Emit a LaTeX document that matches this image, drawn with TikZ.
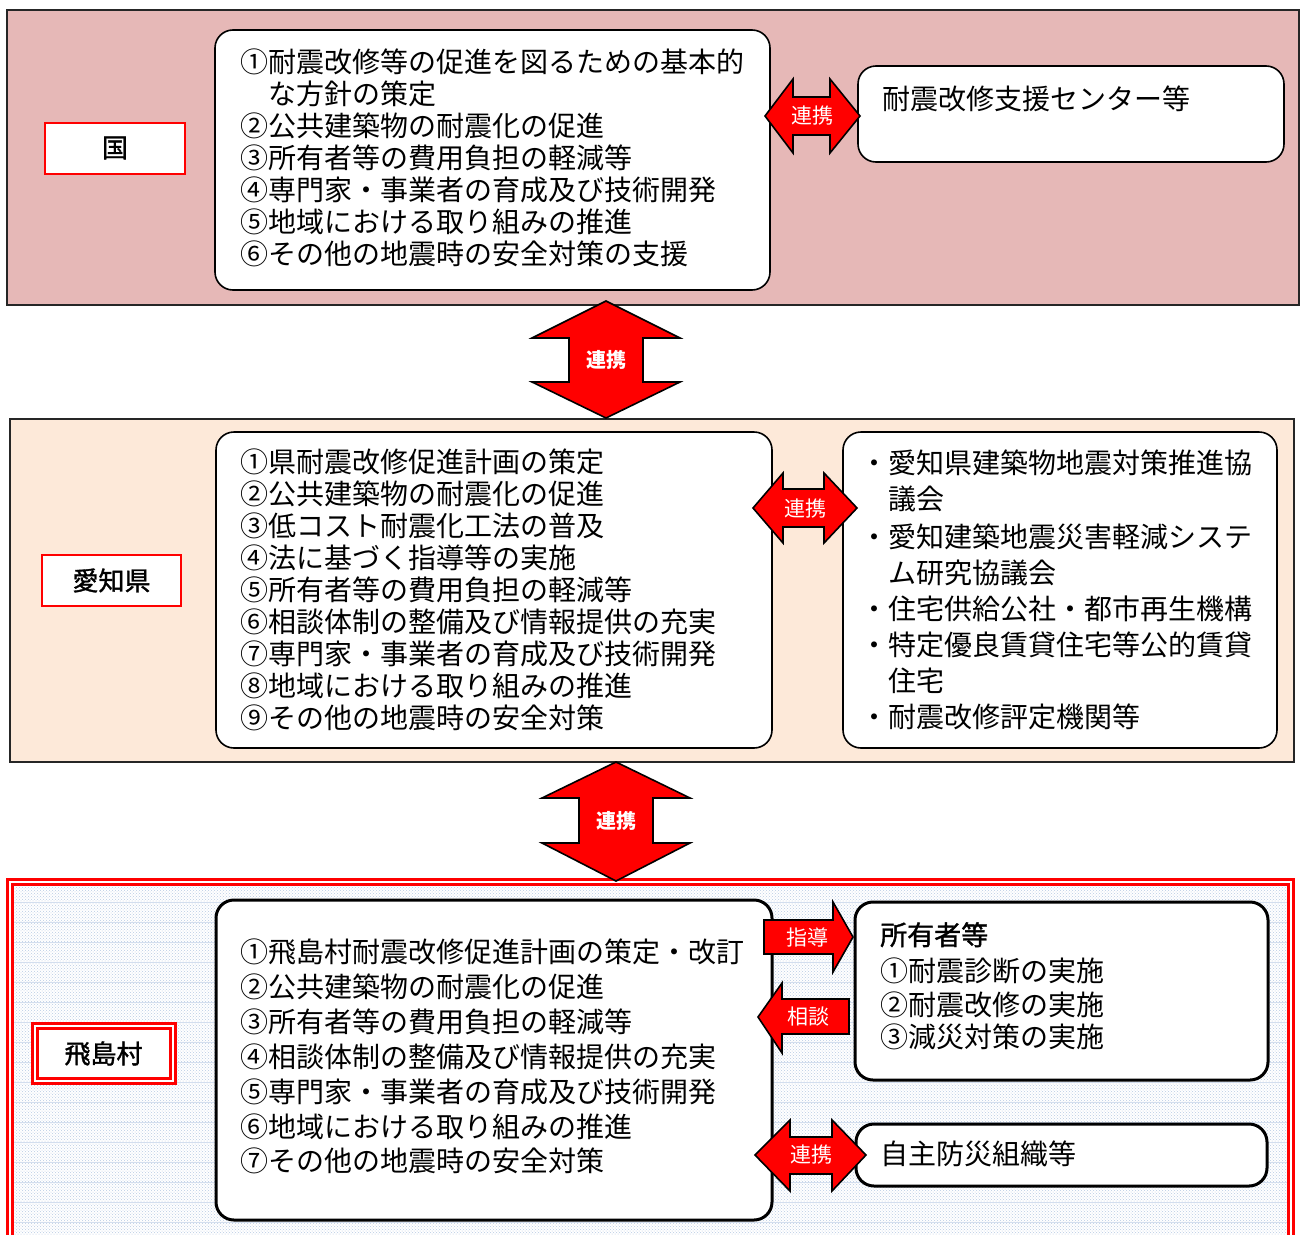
\documentclass[tikz,border=0pt]{standalone}
\usepackage{fontspec}
\setmainfont{Noto Sans CJK JP}
\newfontfamily\semib[FakeBold=1.3]{Noto Sans CJK JP}
\usetikzlibrary{patterns}
\definecolor{kunibg}{HTML}{E6B8B7}
\definecolor{kenbg}{HTML}{FDE9D9}
\definecolor{hatch}{HTML}{B9CBE4}
\definecolor{hline}{HTML}{D3DEEE}
\tikzset{
  sect/.style={draw=black!85, line width=1.3pt},
  lbl/.style={draw=red, line width=2pt, fill=white, inner sep=0pt, font=\semib\fontsize{26}{30}\selectfont},
  listbox/.style={draw=black, line width=1.6pt, fill=white, rounded corners=18pt, inner sep=0pt},
  thickbox/.style={draw=black, line width=3pt, fill=white, rounded corners=18pt, inner sep=0pt},
  txt/.style={anchor=base west, inner sep=0pt, font=\fontsize{28}{32}\selectfont, text=black},
  barrow/.style={fill=red, draw=black, line width=1.6pt, line join=miter},
  atext/.style={text=white, inner sep=0pt, font=\fontsize{21}{24}\selectfont},
  btext/.style={text=white, inner sep=0pt, font=\bfseries\fontsize{20}{24}\selectfont},
}
\begin{document}
\begin{tikzpicture}[x=1pt,y=-1pt]
\useasboundingbox (0,0) rectangle (1300,1234);
\clip (0,0) rectangle (1300,1234);
\fill[white] (0,0) rectangle (1300,1234);

% ---------- sections ----------
\node[sect, fill=kunibg, minimum width=1292pt, minimum height=295pt, inner sep=0pt] (kuni) at (653,157.5) {};
\node[sect, fill=kenbg, minimum width=1284pt, minimum height=343pt, inner sep=0pt] (ken) at (652,590.5) {};
% bottom section
\fill[white] (7,879) rectangle (1293,1245);
\fill[pattern=crosshatch dots, pattern color=hatch] (12,884) rectangle (1289,1245);
\foreach \yy in {902,922,...,1240} {\draw[hline, line width=0.8pt] (12,\yy) -- (1289,\yy);}
\draw[red, line width=3pt] (7,879) rectangle (1293,1250);
\draw[red, line width=3pt] (12.5,884.5) rectangle (1288,1250);
\coordinate (mura) at (650,1055);

% ---------- labels ----------
\node[lbl, minimum width=140pt, minimum height=51pt] (kunilbl) at (115,148) {国};
\node[lbl, minimum width=139pt, minimum height=51pt] (kenlbl) at (111.5,580.5) {愛知県};
\node[draw=red, line width=3pt, fill=white, minimum width=143pt, minimum height=60pt, inner sep=0pt] (muralblo) at (103.5,1053.5) {};
\node[lbl, line width=3pt, minimum width=133pt, minimum height=50pt] (muralbl) at (103.5,1053.5) {飛島村};

% ---------- boxes ----------
\node[listbox, minimum width=555pt, minimum height=260pt] (kunilist) at (492.5,160) {};
\node[listbox, minimum width=426pt, minimum height=96pt] (center) at (1071,114) {};
\node[listbox, minimum width=556pt, minimum height=316pt] (kenlist) at (494,590) {};
\node[listbox, minimum width=434pt, minimum height=316pt] (kenorg) at (1060,590) {};
\node[thickbox, minimum width=556pt, minimum height=320pt] (muralist) at (494,1060) {};
\node[thickbox, minimum width=413pt, minimum height=178pt] (owner) at (1061.5,991) {};
\node[thickbox, minimum width=411pt, minimum height=62pt] (jishu) at (1061.5,1155) {};

% ---------- texts: 国 ----------
\node[txt] (k1) at (240,72) {①耐震改修等の促進を図るための基本的};
\node[txt] (k1b) at (268,104) {な方針の策定};
\node[txt] (k2) at (240,136) {②公共建築物の耐震化の促進};
\node[txt] (k3) at (240,168) {③所有者等の費用負担の軽減等};
\node[txt] (k4) at (240,200) {④専門家・事業者の育成及び技術開発};
\node[txt] (k5) at (240,232) {⑤地域における取り組みの推進};
\node[txt] (k6) at (240,264) {⑥その他の地震時の安全対策の支援};
\node[txt] (ct) at (882,109) {耐震改修支援センター等};

% ---------- texts: 愛知県 ----------
\node[txt] (a1) at (240,472) {①県耐震改修促進計画の策定};
\node[txt] (a2) at (240,504) {②公共建築物の耐震化の促進};
\node[txt] (a3) at (240,536) {③低コスト耐震化工法の普及};
\node[txt] (a4) at (240,568) {④法に基づく指導等の実施};
\node[txt] (a5) at (240,600) {⑤所有者等の費用負担の軽減等};
\node[txt] (a6) at (240,632) {⑥相談体制の整備及び情報提供の充実};
\node[txt] (a7) at (240,664) {⑦専門家・事業者の育成及び技術開発};
\node[txt] (a8) at (240,696) {⑧地域における取り組みの推進};
\node[txt] (a9) at (240,728) {⑨その他の地震時の安全対策};

\node[txt] (o1) at (860,473) {・愛知県建築物地震対策推進協};
\node[txt] (o1b) at (888,509) {議会};
\node[txt] (o2) at (860,547) {・愛知建築地震災害軽減システ};
\node[txt] (o2b) at (888,583) {ム研究協議会};
\node[txt] (o3) at (860,619) {・住宅供給公社・都市再生機構};
\node[txt] (o4) at (860,655) {・特定優良賃貸住宅等公的賃貸};
\node[txt] (o4b) at (888,691) {住宅};
\node[txt] (o5) at (860,727) {・耐震改修評定機関等};

% ---------- texts: 飛島村 ----------
\node[txt] (m1) at (240,962) {①飛島村耐震改修促進計画の策定・改訂};
\node[txt] (m2) at (240,997) {②公共建築物の耐震化の促進};
\node[txt] (m3) at (240,1032) {③所有者等の費用負担の軽減等};
\node[txt] (m4) at (240,1067) {④相談体制の整備及び情報提供の充実};
\node[txt] (m5) at (240,1102) {⑤専門家・事業者の育成及び技術開発};
\node[txt] (m6) at (240,1137) {⑥地域における取り組みの推進};
\node[txt] (m7) at (240,1171) {⑦その他の地震時の安全対策};

\node[txt, font=\semib\fontsize{27}{32}\selectfont] (w0) at (880,945) {所有者等};
\node[txt] (w1) at (880,981) {①耐震診断の実施};
\node[txt] (w2) at (880,1015) {②耐震改修の実施};
\node[txt] (w3) at (880,1047) {③減災対策の実施};
\node[txt] (js) at (880,1164) {自主防災組織等};

% ---------- block arrows ----------
% 国 <-> センター
\draw[barrow] (765,116) -- (793,79) -- (793,97) -- (830,97) -- (830,79) -- (860,116)
  -- (830,153) -- (830,135) -- (793,135) -- (793,153) -- cycle;
\node[atext] (r1) at (812,116) {連携};
% 国 <-> 愛知県
\draw[barrow] (606,301) -- (680,338) -- (643,338) -- (643,382) -- (680,382) -- (606,418)
  -- (532,382) -- (569,382) -- (569,338) -- (532,338) -- cycle;
\node[btext] (r2) at (606,360) {連携};
% 愛知県 list <-> org
\draw[barrow] (753,508) -- (783,473) -- (783,489) -- (824,489) -- (824,473) -- (857,508)
  -- (824,543) -- (824,527) -- (783,527) -- (783,543) -- cycle;
\node[atext] (r3) at (805,509) {連携};
% 愛知県 <-> 飛島村
\draw[barrow] (616,762) -- (690,798) -- (653,798) -- (653,843) -- (690,843) -- (616,881)
  -- (542,843) -- (579,843) -- (579,798) -- (542,798) -- cycle;
\node[btext] (r4) at (616,821) {連携};
% 指導
\draw[barrow] (764,920) -- (833,920) -- (833,902) -- (853,937) -- (833,972) -- (833,954)
  -- (764,954) -- cycle;
\node[atext] (r5) at (807,937) {指導};
% 相談
\draw[barrow] (849,999) -- (782,999) -- (782,983) -- (758,1017) -- (782,1053) -- (782,1034)
  -- (849,1034) -- cycle;
\node[atext] (r6) at (808,1017) {相談};
% 連携 bottom
\draw[barrow] (755,1155) -- (790,1120) -- (790,1137) -- (832,1137) -- (832,1120) -- (866,1155)
  -- (832,1191) -- (832,1174) -- (790,1174) -- (790,1191) -- cycle;
\node[atext] (r7) at (811,1155) {連携};
\end{tikzpicture}
\end{document}
